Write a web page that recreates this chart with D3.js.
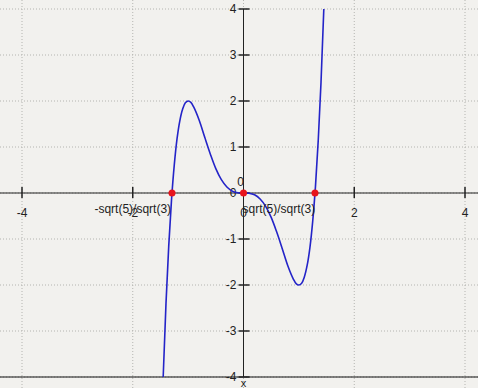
<!DOCTYPE html>
<html>
<head>
<meta charset="utf-8">
<title>Plot</title>
<script src="https://d3js.org/d3.v7.min.js"></script>
<style>
  body { margin: 0; background: #f2f1ee; }
  svg { display: block; font-family: "Liberation Sans", Arial, sans-serif; }
</style>
</head>
<body>
<div id="chart"></div>
<script>
// curve samples
const curveX = [-1.55, -1.5, -1.45, -1.4, -1.35, -1.3, -1.25, -1.2, -1.15, -1.1, -1.05, -1.0, -0.95, -0.9, -0.8, -0.7, -0.6, -0.5, -0.4, -0.3, -0.2, -0.1,
  0, 0.1, 0.2, 0.3, 0.4, 0.5, 0.6, 0.7, 0.8, 0.9, 0.95, 1.0, 1.05, 1.1, 1.15, 1.2, 1.25, 1.3, 1.35, 1.4, 1.45, 1.5, 1.55];
const curveY = [-8.22, -5.91, -3.99, -2.41, -1.15, -0.15, 0.61, 1.18, 1.57, 1.82, 1.96, 2.0, 1.97, 1.87, 1.58, 1.21, 0.85, 0.53, 0.29, 0.13, 0.04, 0.005,
  0, -0.005, -0.04, -0.13, -0.29, -0.53, -0.85, -1.21, -1.58, -1.87, -1.97, -2.0, -1.96, -1.82, -1.57, -1.18, -0.61, 0.15, 1.15, 2.41, 3.99, 5.91, 8.22];
const rootX = [-1.291, 0, 1.291];
const xTicks = [-4, -2, 0, 2, 4];
const yTicks = [-4, -3, -2, -1, 0, 1, 2, 3, 4];

const W = 478, H = 388;
const x = d3.scaleLinear().domain([-4, 4]).range([22, 465]);
const y = d3.scaleLinear().domain([-4, 4]).range([377, 9]);

const svg = d3.select("#chart").append("svg").attr("width", W).attr("height", H);
svg.append("rect").attr("width", W).attr("height", H).attr("fill", "#f2f1ee");

// grid
svg.append("g").selectAll("line").data(xTicks).join("line")
  .attr("x1", d => x(d)).attr("x2", d => x(d)).attr("y1", 0).attr("y2", H)
  .attr("stroke", "#b4b4b0").attr("stroke-dasharray", "1,2");
svg.append("g").selectAll("line").data(yTicks).join("line")
  .attr("x1", 0).attr("x2", W).attr("y1", d => y(d)).attr("y2", d => y(d))
  .attr("stroke", "#b4b4b0").attr("stroke-dasharray", "1,2");

// axes lines
svg.append("line").attr("x1", 0).attr("x2", W).attr("y1", y(0)).attr("y2", y(0)).attr("stroke", "#222");
svg.append("line").attr("x1", 0).attr("x2", W).attr("y1", y(-4)).attr("y2", y(-4)).attr("stroke", "#111");
svg.append("line").attr("x1", x(0)).attr("x2", x(0)).attr("y1", y(4)).attr("y2", y(-4)).attr("stroke", "#222");

// ticks
svg.append("g").selectAll("line").data(xTicks.filter(d => d !== 0)).join("line")
  .attr("x1", d => x(d)).attr("x2", d => x(d)).attr("y1", y(0) - 6).attr("y2", y(0) + 5)
  .attr("stroke", "#222").attr("stroke-width", 1.5);
svg.append("g").selectAll("line").data(yTicks).join("line")
  .attr("x1", x(0) - 5).attr("x2", x(0) + 6).attr("y1", d => y(d)).attr("y2", d => y(d))
  .attr("stroke", "#222").attr("stroke-width", 1.5);

// tick labels
svg.append("g").selectAll("text").data(xTicks).join("text")
  .attr("x", d => x(d)).attr("y", y(0) + 24).attr("text-anchor", "middle")
  .attr("font-size", 12).attr("fill", "#222").text(d => d);
svg.append("g").selectAll("text").data(yTicks).join("text")
  .attr("x", x(0) - 7).attr("y", d => y(d) + 4).attr("text-anchor", "end")
  .attr("font-size", 12).attr("fill", "#222").text(d => d);

// clipped curve
svg.append("clipPath").attr("id", "clip").append("rect")
  .attr("x", 0).attr("y", y(4)).attr("width", W).attr("height", y(-4) - y(4));
const pts = curveX.map((d, i) => [d, curveY[i]]);
svg.append("path").datum(pts)
  .attr("clip-path", "url(#clip)")
  .attr("fill", "none").attr("stroke", "#2424c8").attr("stroke-width", 1.6)
  .attr("d", d3.line().x(d => x(d[0])).y(d => y(d[1])).curve(d3.curveCatmullRom));

// annotations
svg.append("text").attr("x", x(-2)).attr("y", y(0) + 20).attr("text-anchor", "middle")
  .attr("font-size", 12).attr("fill", "#222").text("-sqrt(5)/sqrt(3)");
svg.append("text").attr("x", x(0) - 1).attr("y", y(0) + 20).attr("text-anchor", "start")
  .attr("font-size", 12).attr("fill", "#222").text("sqrt(5)/sqrt(3)");
svg.append("text").attr("x", x(0) - 3).attr("y", y(0) - 7).attr("text-anchor", "middle")
  .attr("font-size", 12).attr("fill", "#222").text("0");
svg.append("text").attr("x", x(0)).attr("y", H - 1).attr("text-anchor", "middle")
  .attr("font-size", 11).attr("fill", "#222").text("x");

// root points
svg.append("g").selectAll("circle").data(rootX).join("circle")
  .attr("cx", d => x(d)).attr("cy", y(0)).attr("r", 3.5).attr("fill", "#e8141c");
</script>
</body>
</html>
